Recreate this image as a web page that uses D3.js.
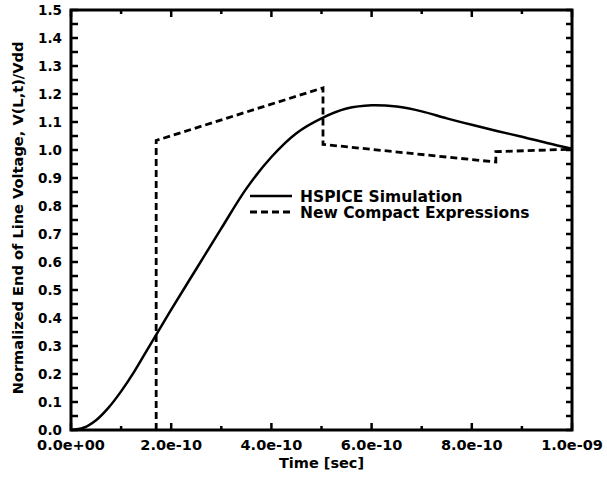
<!DOCTYPE html>
<html><head><meta charset="utf-8">
<script src="https://cdn.jsdelivr.net/npm/d3@7/dist/d3.min.js"></script>
<style>body{margin:0;background:#fff}svg{display:block}text{font-family:"DejaVu Sans",sans-serif;font-weight:bold;fill:#000}</style>
</head><body><svg id="c" width="607" height="483"></svg>
<script>
// time in units of 1e-10 s
const hspiceT = [0,0.25,0.5,0.75,1.0,1.25,1.5,1.75,2.0,2.5,3.0,3.5,4.0,4.5,5.0,5.5,6.0,6.5,7.0,7.5,8.0,8.5,9.0,9.5,10];
const hspiceV = [0,0.008,0.035,0.08,0.138,0.205,0.28,0.355,0.43,0.575,0.72,0.862,0.975,1.06,1.113,1.148,1.16,1.155,1.138,1.113,1.09,1.068,1.047,1.025,1.005];
const compactT = [1.7,1.7,5.03,5.03,8.48,8.48,10];
const compactV = [0,1.034,1.222,1.02,0.957,0.994,1.003];
const xTickVals = [0,2,4,6,8,10];
const xTickLabels = ["0.0e+00","2.0e-10","4.0e-10","6.0e-10","8.0e-10","1.0e-09"];
const yTickVals = [0,0.1,0.2,0.3,0.4,0.5,0.6,0.7,0.8,0.9,1.0,1.1,1.2,1.3,1.4,1.5];
const legendLabels = ["HSPICE Simulation","New Compact Expressions"];

const svg = d3.select("#c");
const L=71,R=572,T=10,B=430;
const x = d3.scaleLinear().domain([0,10]).range([L,R]);
const y = d3.scaleLinear().domain([0,1.5]).range([B,T]);

const g = svg.append("g");
// ticks
const yMinor = d3.range(0,1.5001,0.05);
const xMinor = d3.range(0,10.001,1);
yMinor.forEach(v=>{
  g.append("line").attr("x1",L).attr("x2",L+7).attr("y1",y(v)).attr("y2",y(v)).attr("stroke","#000").attr("stroke-width",2.5);
  g.append("line").attr("x1",R).attr("x2",R-6).attr("y1",y(v)).attr("y2",y(v)).attr("stroke","#000").attr("stroke-width",2.5);
});
xMinor.forEach(v=>{
  const len = (v%2===0)?7:4;
  g.append("line").attr("x1",x(v)).attr("x2",x(v)).attr("y1",B).attr("y2",B-len).attr("stroke","#000").attr("stroke-width",2.5);
  g.append("line").attr("x1",x(v)).attr("x2",x(v)).attr("y1",T).attr("y2",T+len).attr("stroke","#000").attr("stroke-width",2.5);
});
// frame
g.append("rect").attr("x",L).attr("y",T).attr("width",R-L).attr("height",B-T).attr("fill","none").attr("stroke","#000").attr("stroke-width",3);

// tick labels
yTickVals.forEach(v=>{
  g.append("text").attr("x",62).attr("y",y(v)+4.5).attr("text-anchor","end").attr("font-size",13.5).text(v.toFixed(1));
});
xTickVals.forEach((v,i)=>{
  g.append("text").attr("x",x(v)).attr("y",450).attr("text-anchor","middle").attr("font-size",14.5).text(xTickLabels[i]);
});
// axis titles
g.append("text").attr("x",(L+R)/2).attr("y",468).attr("text-anchor","middle").attr("font-size",14.5).text("Time [sec]");
g.append("text").attr("transform","translate(23,218) rotate(-90)").attr("text-anchor","middle").attr("font-size",14.6).text("Normalized End of Line Voltage, V(L,t)/Vdd");

// lines
const hs = hspiceT.map((t,i)=>[t,hspiceV[i]]);
const cp = compactT.map((t,i)=>[t,compactV[i]]);
g.append("path").datum(hs).attr("d",d3.line().x(d=>x(d[0])).y(d=>y(d[1])).curve(d3.curveCatmullRom.alpha(0.5))).attr("fill","none").attr("stroke","#000").attr("stroke-width",2.5);
g.append("path").datum(cp).attr("d",d3.line().x(d=>x(d[0])).y(d=>y(d[1]))).attr("fill","none").attr("stroke","#000").attr("stroke-width",2.8).attr("stroke-dasharray","7,4");

// legend
const lg = svg.append("g");
lg.append("line").attr("x1",250).attr("x2",292).attr("y1",196).attr("y2",196).attr("stroke","#000").attr("stroke-width",2.5);
lg.append("line").attr("x1",250).attr("x2",292).attr("y1",212).attr("y2",212).attr("stroke","#000").attr("stroke-width",2.8).attr("stroke-dasharray","7,4");
lg.append("text").attr("x",300).attr("y",201.5).attr("font-size",15.5).text(legendLabels[0]);
lg.append("text").attr("x",300).attr("y",218).attr("font-size",15.5).text(legendLabels[1]);
</script></body></html>
